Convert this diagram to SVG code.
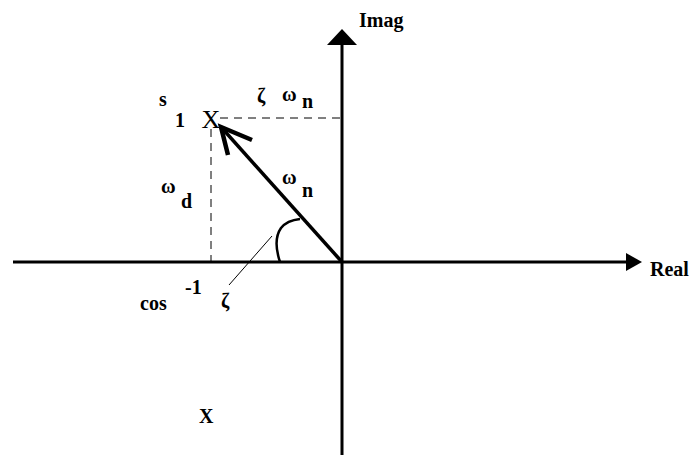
<svg xmlns="http://www.w3.org/2000/svg" width="691" height="455" viewBox="0 0 691 455">
<style>
.t{font-family:"Liberation Serif",serif;font-weight:bold;font-size:20px;fill:#000}
.g{font-family:"Liberation Serif",serif;font-weight:normal;fill:#000}
.axis{stroke:#000;stroke-width:3;fill:none}
.dash{stroke:#000;stroke-width:1;stroke-dasharray:8,6;fill:none}
.thin{stroke:#000;stroke-width:1;fill:none}
</style>
<rect width="691" height="455" fill="#fff"/>
<g id="connectors">
  <line class="axis" x1="13" y1="262" x2="628" y2="262"/>
  <polygon points="626,253 642,262 626,271" fill="#000"/>
  <line class="axis" x1="342" y1="44" x2="342" y2="455"/>
  <polygon points="327,45 342,29 357,45" fill="#000"/>
  <line class="dash" x1="220" y1="118" x2="342" y2="118"/>
  <line class="dash" x1="211" y1="129" x2="211" y2="262"/>
  <line x1="342" y1="262" x2="221" y2="127" stroke="#000" stroke-width="3.5"/>
  <polyline points="252,140 221,127 228,155" stroke="#000" stroke-width="4.5" fill="none" stroke-linejoin="miter"/>
  <path d="M 280 262 C 276 250 274 238 281 228 C 285 223 291 220 300 219" stroke="#000" stroke-width="2.5" fill="none"/>
  <line class="thin" x1="272" y1="236" x2="229" y2="285"/>
</g>
<g id="axis-imag"><text class="t" x="359" y="27" font-size="20">Imag</text></g>
<g id="axis-real"><text class="t" x="650" y="276" font-size="20">Real</text></g>
<g id="pole-s1">
  <text class="g" x="211" y="128" font-size="26" text-anchor="middle">X</text>
  <text class="t" x="159" y="106" font-size="27">s</text>
  <text class="t" x="175" y="127" font-size="27">1</text>
</g>
<g id="label-zeta-wn">
  <text class="t" x="257" y="103" font-size="26">ζ</text>
  <text class="t" x="282" y="101" font-size="24">ω</text>
  <text class="t" x="302" y="108" font-size="27">n</text>
</g>
<g id="label-wd">
  <text class="t" x="161" y="193" font-size="24">ω</text>
  <text class="t" x="181" y="208" font-size="27">d</text>
</g>
<g id="label-wn">
  <text class="t" x="282" y="184" font-size="24">ω</text>
  <text class="t" x="302" y="197" font-size="27">n</text>
</g>
<g id="label-angle">
  <text class="t" x="140" y="310" font-size="31">cos</text>
  <text class="t" x="185" y="294" font-size="28">-1</text>
  <text class="t" x="221" y="308" font-size="27">ζ</text>
</g>
<g id="pole-s2"><text class="t" x="199" y="423" font-size="28">X</text></g>
</svg>
